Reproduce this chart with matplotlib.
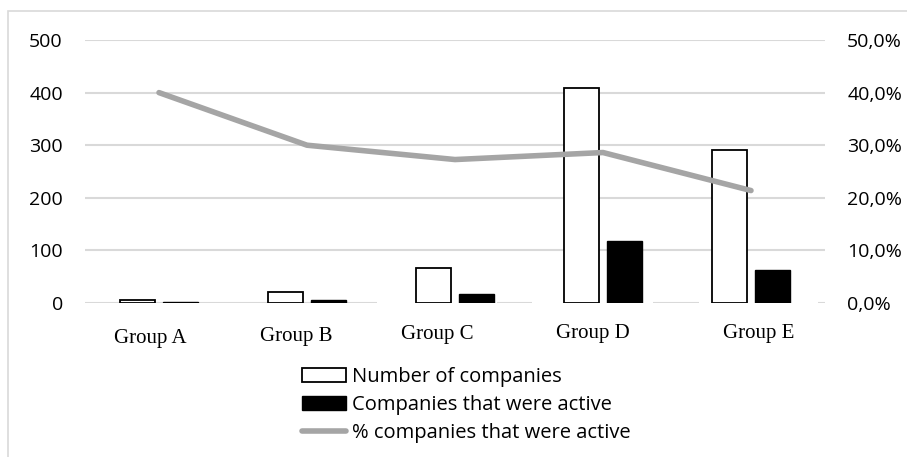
import numpy as np
import matplotlib as mpl
mpl.use('Agg')
import matplotlib.pyplot as plt
from matplotlib.patches import Patch, Rectangle
from matplotlib.lines import Line2D
from matplotlib.ticker import FuncFormatter


groups = ['Group A', 'Group B', 'Group C', 'Group D', 'Group E']
n_companies = [5, 20, 66, 409, 290]
n_active = [2, 6, 18, 117, 62]
label_y = [-0.135, -0.126, -0.118, -0.115, -0.115]   # category labels sit at uneven heights

LINE_GRAY = '#A5A5A5'
GRID_GRAY = '#D9D9D9'

pct_active = np.array(n_active) / np.array(n_companies)
x = np.arange(len(groups))

fig = plt.figure(figsize=(9.07, 4.57), dpi=100)
ax = fig.add_axes([85 / 907, 1 - 303 / 457, 740 / 907, 263 / 457])

# chart frame
fig.patches.append(Rectangle((8 / 907, -0.1), 1.2, 1 - 11 / 457 + 0.1, transform=fig.transFigure,
                             fill=False, edgecolor=GRID_GRAY, lw=1.2, zorder=0))

w = 0.236
ax.bar(x - 0.145, n_companies, w, color='white', edgecolor='black', lw=1.3, zorder=3)
ax.bar(x + 0.145, n_active, w, color='black', edgecolor='black', lw=1.0, zorder=3)

ax.set_xlim(-0.5, len(groups) - 0.5)
ax.set_ylim(0, 500)
ax.set_yticks(range(0, 501, 100))
ax.grid(axis='y', color=GRID_GRAY, lw=1.5, zorder=0)
ax.set_axisbelow(True)
for s in ax.spines.values():
    s.set_visible(False)
ax.tick_params(axis='y', length=0, pad=16, labelsize=14)
ax.tick_params(axis='x', length=0)
ax.set_xticks([])
for lab in ax.get_yticklabels():
    lab.set_fontfamily('Open Sans')

# category labels in serif; the later ones carry a white box over the baseline
offs = [-0.06, -0.07, -0.12, -0.07, 0.05]
for i, g in enumerate(groups):
    ax.text(i + offs[i], label_y[i] * 500, g, ha='center', va='center', fontsize=15,
            family='Liberation Serif', zorder=2.5,
            bbox=dict(facecolor='white', edgecolor='none', pad=17) if i >= 2 else None)

ax2 = ax.twinx()
ax2.plot(x, pct_active, color=LINE_GRAY, lw=4, solid_capstyle='round', zorder=4)
ax2.set_ylim(0, 0.5)
ax2.set_yticks(np.arange(0, 0.51, 0.1))
ax2.yaxis.set_major_formatter(FuncFormatter(lambda v, p: ('%.1f%%' % (v * 100)).replace('.', ',')))
for s in ax2.spines.values():
    s.set_visible(False)
ax2.tick_params(axis='y', length=0, pad=16, labelsize=14)
for lab in ax2.get_yticklabels():
    lab.set_fontfamily('Open Sans')

handles = [Patch(facecolor='white', edgecolor='black', lw=1.3),
           Patch(facecolor='black', edgecolor='black'),
           Line2D([0], [0], color=LINE_GRAY, lw=4, solid_capstyle='round')]
labels = ['Number of companies', 'Companies that were active', '% companies that were active']
fig.legend(handles, labels, loc='upper left', bbox_to_anchor=(292 / 907, 1 - 357 / 457),
           frameon=False, prop={'family': 'Open Sans', 'size': 14.5}, handlelength=2.2,
           handleheight=0.65, handletextpad=0.3, labelspacing=0.4, borderpad=0)

fig.savefig('out.png', dpi=100)
